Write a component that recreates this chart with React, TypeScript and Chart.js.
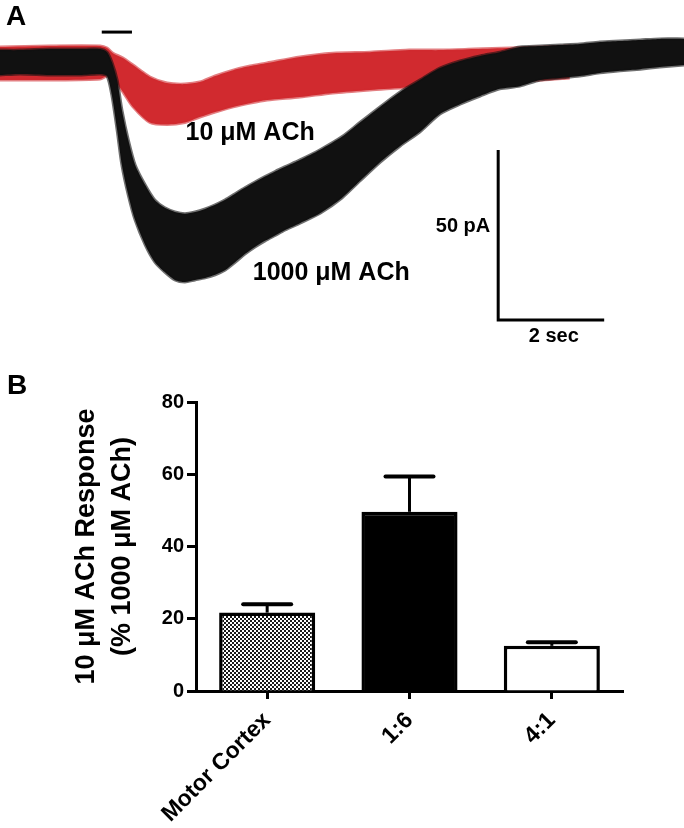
import React, { useEffect, useRef } from "react";
import { Chart, registerables } from "chart.js";

Chart.register(...registerables);

const FONT = '"Liberation Sans", Arial, Helvetica, sans-serif';

// ---------- Panel A : whole-cell current traces (time in s, current in pA) ----------
// upper / lower edges of the noisy current band
const blackTime = [0, 0.38, 0.94, 1.51, 1.89, 2.02, 2.11, 2.21, 2.3, 2.42, 2.55, 2.74, 2.92, 3.11, 3.3, 3.49, 3.68, 3.87, 4.06, 4.25, 4.43, 4.62, 4.81, 5.0, 5.19, 5.38, 5.66, 6.04, 6.45, 6.79, 7.17, 7.55, 7.92, 8.3, 8.68, 9.06, 9.43, 9.81, 10.19, 10.57, 10.94, 11.32, 11.7, 12.08, 12.45, 12.91];
const blackUpper = [3.5, 3.5, 3.8, 3.8, 3.8, 2.9, 0, -5.3, -14.1, -22.9, -30.3, -36.2, -40.6, -42.9, -44.1, -44.6, -44.1, -43.2, -42.0, -40.5, -38.8, -37.0, -35.3, -33.7, -32.2, -30.8, -28.8, -25.8, -22.0, -17.8, -13.2, -8.8, -5.3, -1.8, 0.3, 1.8, 2.9, 4.4, 4.7, 5.0, 5.3, 5.9, 6.2, 6.5, 6.8, 6.8];
const blackLower = [-3.8, -3.5, -3.8, -3.8, -3.5, -4.1, -9.7, -20.0, -30.3, -39.1, -46.5, -53.8, -58.8, -61.8, -64.1, -64.7, -64.1, -63.5, -62.6, -61.2, -59.0, -56.5, -54.4, -52.6, -51.0, -49.4, -47.4, -44.5, -40.0, -35.0, -29.5, -24.7, -20.6, -15.3, -12.4, -10.0, -7.9, -7.1, -5.3, -4.7, -4.1, -3.2, -2.6, -2.1, -1.5, -0.9];

const redTime = [0, 0.94, 1.89, 2.02, 2.13, 2.32, 2.51, 2.83, 3.15, 3.49, 3.77, 4.06, 4.4, 4.72, 5.04, 5.66, 6.28, 6.98, 7.72, 8.3, 8.96, 9.62, 10.23, 10.75];
const redUpper = [4.4, 4.7, 4.7, 4.1, 2.6, 1.2, -0.9, -4.4, -6.2, -6.5, -5.9, -4.1, -2.4, -1.2, -0.3, 1.5, 2.6, 2.9, 3.5, 3.5, 3.8, 4.1, 4.4, 4.7];
const redLower = [-5.3, -5.3, -5.0, -4.1, -4.7, -8.8, -13.2, -17.8, -18.4, -17.8, -16.2, -14.7, -13.2, -12.1, -11.2, -10.3, -9.1, -8.2, -7.4, -6.5, -5.3, -5.3, -5.3, -4.7];

const stimTime = [1.92, 2.49];
const stimLevel = 8.8;
const scaleBarTime = [9.4, 9.4, 11.4];
const scaleBarCurrent = [-25.9, -75.9, -75.9];
const traceLabels = ["10 μM ACh", "1000 μM ACh"];
const traceLabelTime = [4.72, 6.25];
const traceLabelCurrent = [-20.9, -62.1];
const scaleLabels = ["50 pA", "2 sec"];
const scaleLabelTime = [9.25, 10.45];
const scaleLabelCurrent = [-48.5, -80.6];

// ---------- Panel B : bar chart ----------
const categories = ["Motor Cortex", "1:6", "4:1"];
const responses = [21.7, 49.6, 12.5];
const sems = [2.3, 9.8, 1.0];
const yMin = 0;
const yMax = 80;
const yStep = 20;
const yTitle = ["10 μM ACh Response", "(% 1000 μM ACh)"];

function zip(xs: number[], ys: number[]) {
  return xs.map((x, i) => ({ x, y: ys[i] }));
}

export default function App() {
  const refA = useRef<HTMLCanvasElement | null>(null);
  const refB = useRef<HTMLCanvasElement | null>(null);

  useEffect(() => {
    const black = "#111111";
    const blackEdge = "rgba(17,17,17,0.6)";
    const red = "#d12a2f";
    const redEdge = "rgba(209,42,47,0.6)";

    const textPluginA = {
      id: "textA",
      afterDatasetsDraw(chart: any) {
        const { ctx, scales } = chart;
        const xs = scales.x;
        const ys = scales.y;
        ctx.save();
        ctx.fillStyle = "#000";
        ctx.textBaseline = "middle";
        ctx.font = `bold 28px ${FONT}`;
        ctx.textAlign = "left";
        ctx.fillText("A", 6, 17);
        ctx.font = `bold 25px ${FONT}`;
        ctx.textAlign = "center";
        traceLabels.forEach((t, i) => {
          ctx.fillText(t, xs.getPixelForValue(traceLabelTime[i]), ys.getPixelForValue(traceLabelCurrent[i]));
        });
        ctx.font = `bold 20px ${FONT}`;
        ctx.textAlign = "right";
        ctx.fillText(scaleLabels[0], xs.getPixelForValue(scaleLabelTime[0]), ys.getPixelForValue(scaleLabelCurrent[0]));
        ctx.textAlign = "center";
        ctx.fillText(scaleLabels[1], xs.getPixelForValue(scaleLabelTime[1]), ys.getPixelForValue(scaleLabelCurrent[1]));
        ctx.restore();
      },
    };

    const trace = (t: number[], v: number[], edge: string, fillColor: string | null) => ({
      data: zip(t, v),
      borderColor: edge,
      borderWidth: 3,
      pointRadius: 0,
      tension: 0.25,
      fill: fillColor ? "-1" : false,
      backgroundColor: fillColor || "transparent",
    });

    const chartA = new Chart(refA.current as HTMLCanvasElement, {
      type: "line",
      data: {
        datasets: [
          trace(blackTime, blackUpper, blackEdge, null),
          trace(blackTime, blackLower, blackEdge, black),
          trace(redTime, redUpper, redEdge, null),
          trace(redTime, redLower, redEdge, red),
          { data: zip(stimTime, [stimLevel, stimLevel]), borderColor: "#000", borderWidth: 3, pointRadius: 0, fill: false },
          { data: zip(scaleBarTime, scaleBarCurrent), borderColor: "#000", borderWidth: 3, pointRadius: 0, fill: false, borderJoinStyle: "miter" },
        ] as any,
      },
      options: {
        animation: false,
        responsive: false,
        layout: { padding: 0 },
        scales: {
          x: { type: "linear", min: 0, max: 12.906, display: false },
          y: { type: "linear", min: -83.235, max: 18.235, display: false },
        },
        plugins: {
          legend: { display: false },
          tooltip: { enabled: false },
          filler: { drawTime: "beforeDatasetDraw" },
        } as any,
        events: [],
      },
      plugins: [textPluginA],
    });

    // checkered fill pattern for first bar
    const tile = document.createElement("canvas");
    tile.width = 4;
    tile.height = 4;
    const tctx = tile.getContext("2d") as CanvasRenderingContext2D;
    tctx.fillStyle = "#ffffff";
    tctx.fillRect(0, 0, 4, 4);
    tctx.fillStyle = "#1a1a1a";
    tctx.fillRect(0, 0, 2, 2);
    tctx.fillRect(2, 2, 2, 2);
    const ctxB = (refB.current as HTMLCanvasElement).getContext("2d") as CanvasRenderingContext2D;
    const checker = ctxB.createPattern(tile, "repeat");

    const errorBars = {
      id: "errorBars",
      afterDatasetsDraw(chart: any) {
        const { ctx } = chart;
        const meta = chart.getDatasetMeta(0);
        const ys = chart.scales.y;
        ctx.save();
        ctx.strokeStyle = "#000";
        meta.data.forEach((bar: any, i: number) => {
          const x = bar.x;
          const y0 = ys.getPixelForValue(responses[i]);
          const y1 = ys.getPixelForValue(responses[i] + sems[i]);
          ctx.lineWidth = 3;
          ctx.lineCap = "butt";
          ctx.beginPath();
          ctx.moveTo(x, y0);
          ctx.lineTo(x, y1);
          ctx.stroke();
          ctx.lineWidth = 4;
          ctx.lineCap = "round";
          ctx.beginPath();
          ctx.moveTo(x - 24, y1);
          ctx.lineTo(x + 24, y1);
          ctx.stroke();
        });
        ctx.fillStyle = "#000";
        ctx.font = `bold 28px ${FONT}`;
        ctx.textAlign = "left";
        ctx.textBaseline = "middle";
        ctx.fillText("B", 7, 36);
        ctx.restore();
      },
    };

    const chartB = new Chart(refB.current as HTMLCanvasElement, {
      type: "bar",
      data: {
        labels: categories,
        datasets: [
          {
            data: responses,
            backgroundColor: [checker, "#000000", "#ffffff"] as any,
            borderColor: "#000",
            borderWidth: 3.5,
            barPercentage: 0.675,
            categoryPercentage: 1,
          },
        ],
      },
      options: {
        animation: false,
        responsive: false,
        layout: { padding: { left: 0, top: 52, right: 61, bottom: 0 } },
        scales: {
          x: {
            grid: { drawOnChartArea: false, offset: false, tickLength: 8, tickWidth: 3, tickColor: "#000" },
            border: { width: 3, color: "#000" },
            ticks: { color: "#000", font: { family: FONT, size: 23, weight: "bold" }, minRotation: 45, maxRotation: 45, padding: 8 },
            afterFit: (s: any) => { s.height = 137; },
          },
          y: {
            min: yMin,
            max: yMax,
            grid: { drawOnChartArea: false, tickLength: 9, tickWidth: 3, tickColor: "#000" },
            border: { width: 3, color: "#000" },
            ticks: { stepSize: yStep, color: "#000", font: { family: FONT, size: 20, weight: "bold" }, padding: 3 },
            title: {
              display: true,
              text: yTitle,
              color: "#000",
              font: { family: FONT, size: 27, weight: "bold", lineHeight: 1.333 },
              padding: { top: 69, bottom: 0 },
            },
            afterFit: (s: any) => { s.width = 196; },
          },
        } as any,
        plugins: { legend: { display: false }, tooltip: { enabled: false } },
        events: [],
      },
      plugins: [errorBars],
    });

    return () => {
      chartA.destroy();
      chartB.destroy();
    };
  }, []);

  return (
    <div style={{ position: "absolute", left: 0, top: 0, width: 684, height: 828, background: "#fff" }}>
      <canvas ref={refA} width={684} height={345} style={{ position: "absolute", left: 0, top: 0, display: "block" }} />
      <canvas ref={refB} width={684} height={478} style={{ position: "absolute", left: 0, top: 350, display: "block" }} />
    </div>
  );
}
